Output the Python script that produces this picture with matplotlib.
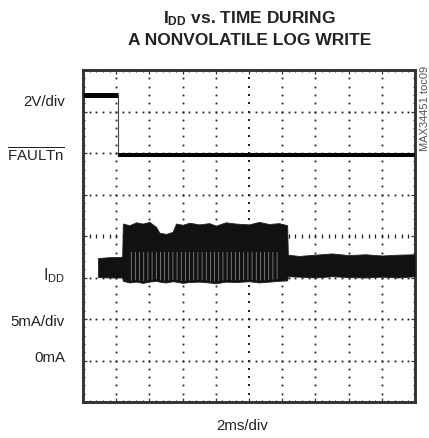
import matplotlib
matplotlib.use("Agg")
import matplotlib.pyplot as plt
import numpy as np

plt.rcParams['font.family'] = ['Liberation Sans', 'DejaVu Sans']
plt.rcParams['mathtext.fontset'] = 'custom'
plt.rcParams['mathtext.rm'] = 'Liberation Sans'
plt.rcParams['mathtext.bf'] = 'Liberation Sans:bold'
plt.rcParams['hatch.linewidth'] = 0.5

# ---- data (in screen divisions: 10 horizontal x 8 vertical) ----
fault_high_t = [0.0, 1.04]
fault_high_v = [7.40, 7.40]
fault_edge_t = [1.04, 1.04]
fault_edge_v = [7.40, 5.95]
fault_low_t = [1.04, 10.0]
fault_low_v = [5.95, 5.95]

idd_t = [0.45, 0.8, 1.18, 1.20, 1.4, 1.6, 1.8, 2.0, 2.2, 2.3, 2.5, 2.7, 2.8,
         3.0, 3.2, 3.5, 3.8, 4.0, 4.3, 4.6, 5.0, 5.3, 5.6, 5.9, 6.15, 6.17,
         6.5, 7.0, 7.5, 8.0, 8.5, 9.0, 9.5, 10.0]
idd_upper = [3.47, 3.49, 3.50, 4.30, 4.26, 4.33, 4.30, 4.34, 4.22, 4.08, 4.05,
             4.10, 4.30, 4.27, 4.32, 4.28, 4.31, 4.25, 4.33, 4.30, 4.28, 4.34,
             4.29, 4.31, 4.26, 3.55, 3.52, 3.55, 3.58, 3.54, 3.56, 3.53, 3.55, 3.56]
idd_lower = [3.01, 3.00, 3.00, 2.92, 2.88, 2.90, 2.87, 2.90, 2.92, 2.90, 2.88,
             2.91, 2.90, 2.87, 2.89, 2.90, 2.88, 2.86, 2.90, 2.89, 2.91, 2.88,
             2.90, 2.92, 2.93, 3.03, 3.02, 3.00, 3.03, 3.01, 3.00, 3.02, 3.00, 3.03]
# burst section (ringing region, lower part shows light gaps)
burst_start, burst_end = 1.21, 6.14
burst_gap_top = 3.62

n_xdiv = 10
n_ydiv = 8

W, H = 429, 438
fig = plt.figure(figsize=(W / 100, H / 100), dpi=100)
fig.patch.set_facecolor('white')

L, R, T, B = 83, 415, 70, 402
ax = fig.add_axes([L / W, 1 - B / H, (R - L) / W, (B - T) / H])
ax.set_xlim(0, n_xdiv)
ax.set_ylim(0, n_ydiv)

# grid made of dots
fine_x = np.arange(1, n_xdiv * 5) * 0.2
fine_y = np.arange(1, n_ydiv * 5) * 0.2
for i in range(1, n_xdiv):
    ms = 1.7 if i == 5 else 1.3
    ax.plot(np.full_like(fine_y, i), fine_y, ls='none', marker='s',
            ms=ms, color='#222', mew=0, zorder=1)
for j in range(1, n_ydiv):
    if j == 4:
        ax.plot(fine_x, np.full_like(fine_x, j), ls='none', marker='|',
                ms=3.5, color='#222', mew=0.9, zorder=1)
    else:
        ax.plot(fine_x, np.full_like(fine_x, j), ls='none', marker='s',
                ms=1.3, color='#222', mew=0, zorder=1)

# traces
ax.plot(fault_high_t, fault_high_v, color='black', lw=3.6,
        solid_capstyle='butt', zorder=3)
ax.plot(fault_edge_t, fault_edge_v, color='#444', lw=0.8, zorder=3)
ax.plot(fault_low_t, fault_low_v, color='black', lw=2.9,
        solid_capstyle='butt', zorder=3)

idd_t_a = np.array(idd_t)
ax.fill_between(idd_t_a, idd_lower, idd_upper, color='#111', lw=0.6,
                edgecolor='#222', zorder=3)
mask = (idd_t_a >= burst_start) & (idd_t_a <= burst_end)
lo = np.array(idd_lower)[mask] + 0.04
ax.fill_between(idd_t_a[mask], lo, np.full(mask.sum(), burst_gap_top),
                facecolor='none', edgecolor='#9a9a9a', hatch='||||', lw=0,
                zorder=4)

# frame & ticks
for s in ax.spines.values():
    s.set_linewidth(2.1)
    s.set_color('#333')
ax.set_xticks(np.arange(0, n_xdiv + 1))
ax.set_yticks(np.arange(0, n_ydiv + 1))
ax.set_xticks(np.arange(0, n_xdiv * 5 + 1) * 0.2, minor=True)
ax.set_yticks(np.arange(0, n_ydiv * 5 + 1) * 0.2, minor=True)
ax.tick_params(which='both', direction='in', top=True, right=True,
               labelbottom=False, labelleft=False, color='#333')
ax.tick_params(which='major', length=3.2, width=0.9)
ax.tick_params(which='minor', length=1.6, width=0.8)


def px(x, y):
    return (x / W, 1 - y / H)


fs = 10.8
fig.text(*px(65, 106), '2V/div', ha='right', va='baseline', fontsize=fs,
         color='#222')
fig.text(*px(65, 161.5), r'$\overline{\mathrm{FAULTn}}$', ha='right',
         va='baseline', fontsize=fs, color='#222')
fig.text(*px(65, 280), r'$\mathrm{I_{DD}}$', ha='right', va='baseline',
         fontsize=fs + 0.5, color='#222')
fig.text(*px(65, 326), '5mA/div', ha='right', va='baseline', fontsize=fs,
         color='#222')
fig.text(*px(65, 361.5), '0mA', ha='right', va='baseline', fontsize=fs,
         color='#222')
fig.text(*px(242, 430), '2ms/div', ha='center', va='baseline', fontsize=fs,
         color='#222')

tfs = 12.5
fig.text(*px(249, 23), r'$\mathbf{I_{DD}}$ vs. TIME DURING', ha='center',
         va='baseline', fontsize=tfs, fontweight='bold', color='#222')
fig.text(*px(250, 45), 'A NONVOLATILE LOG WRITE', ha='center',
         va='baseline', fontsize=tfs, fontweight='bold', color='#222')

fig.text(*px(425, 108), 'MAX34451 toc09', rotation=90, ha='center',
         va='center', fontsize=8, color='#555')

fig.savefig('out.png', dpi=100, facecolor='white')
